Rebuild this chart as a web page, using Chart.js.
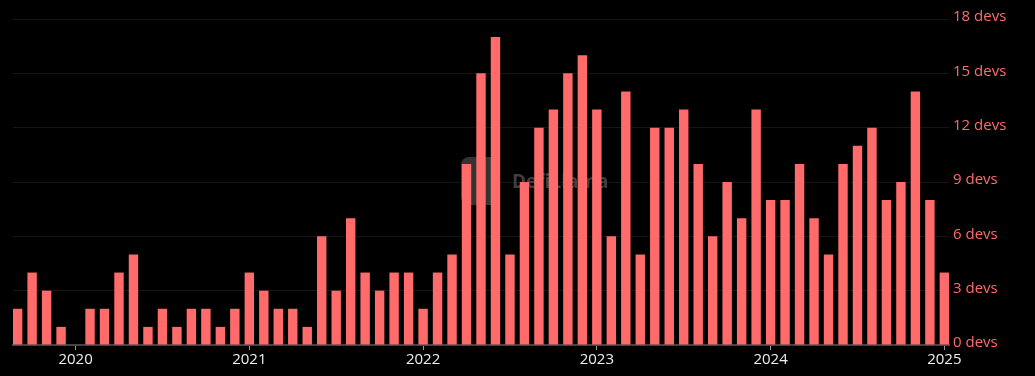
<!DOCTYPE html>
<html>
<head>
<meta charset="utf-8">
<style>
    html, body { margin: 0; padding: 0; background: #000; }
    #wrap { width: 1035px; height: 376px; }
</style>
<script src="https://cdn.jsdelivr.net/npm/chart.js@4"></script>
</head>
<body>
<div id="wrap"><canvas id="chart"></canvas></div>
<script>
// Monthly buckets, Sep 2019 to Jan 2025
const months = [
    '2019-09', '2019-10', '2019-11', '2019-12',
    '2020-01', '2020-02', '2020-03', '2020-04', '2020-05', '2020-06', '2020-07', '2020-08', '2020-09', '2020-10', '2020-11', '2020-12',
    '2021-01', '2021-02', '2021-03', '2021-04', '2021-05', '2021-06', '2021-07', '2021-08', '2021-09', '2021-10', '2021-11', '2021-12',
    '2022-01', '2022-02', '2022-03', '2022-04', '2022-05', '2022-06', '2022-07', '2022-08', '2022-09', '2022-10', '2022-11', '2022-12',
    '2023-01', '2023-02', '2023-03', '2023-04', '2023-05', '2023-06', '2023-07', '2023-08', '2023-09', '2023-10', '2023-11', '2023-12',
    '2024-01', '2024-02', '2024-03', '2024-04', '2024-05', '2024-06', '2024-07', '2024-08', '2024-09', '2024-10', '2024-11', '2024-12',
    '2025-01'
];
const devs = [
    2, 4, 3, 1,
    0, 2, 2, 4, 5, 1, 2, 1, 2, 2, 1, 2,
    4, 3, 2, 2, 1, 6, 3, 7, 4, 3, 4, 4,
    2, 4, 5, 10, 15, 17, 5, 9, 12, 13, 15, 16,
    13, 6, 14, 5, 12, 12, 13, 10, 6, 9, 7, 13,
    8, 8, 10, 7, 5, 10, 11, 12, 8, 9, 14, 8,
    4
];
const yearTicks = ['2020', '2021', '2022', '2023', '2024', '2025'];
const devTicks = [0, 3, 6, 9, 12, 15, 18];

const RED = '#ff6b6b';
const FONT = '"Open Sans"';

// Faint watermark sits behind the bars
const watermark = {
    id: 'watermark',
    beforeDatasetsDraw(chart) {
        const ctx = chart.ctx;
        ctx.save();
        ctx.fillStyle = '#333';
        ctx.beginPath();
        ctx.roundRect(461, 157, 38, 48, 8);
        ctx.fill();
        ctx.fillStyle = '#3f3f3f';
        ctx.font = 'bold 19px ' + FONT;
        ctx.textBaseline = 'middle';
        ctx.fillText('DefiLlama', 512, 183);
        ctx.restore();
    }
};

new Chart(document.getElementById('chart'), {
    type: 'bar',
    data: {
        datasets: [{
            label: 'Devs',
            data: months.map((m, i) => ({ x: i, y: devs[i] })),
            backgroundColor: RED,
            borderWidth: 0,
            categoryPercentage: 1,
            barPercentage: 0.65
        }]
    },
    options: {
        responsive: true,
        maintainAspectRatio: false,
        animation: false,
        layout: { padding: { left: 13, top: 19, right: 0, bottom: 0 } },
        plugins: { legend: { display: false }, tooltip: { enabled: false } },
        scales: {
            x: {
                type: 'linear',
                offset: false,
                min: -0.32,
                max: months.length - 1 + 0.32,
                // ticks only on the January buckets
                afterBuildTicks(scale) {
                    scale.ticks = yearTicks.map(y => ({ value: months.indexOf(y + '-01') }));
                },
                afterFit(scale) { scale.height = 31; },
                grid: { offset: false, drawOnChartArea: false, tickLength: 5, tickColor: '#999' },
                border: { color: '#444', width: 2 },
                ticks: {
                    color: '#eee',
                    autoSkip: false,
                    maxRotation: 0,
                    padding: 1,
                    font: { family: FONT, size: 15 },
                    callback: (v) => months[v].slice(0, 4)
                }
            },
            y: {
                position: 'right',
                min: 0,
                max: 18,
                afterBuildTicks(scale) {
                    scale.ticks = devTicks.map(v => ({ value: v }));
                },
                afterFit(scale) { scale.width = 86; },
                grid: { color: '#161616', drawTicks: false },
                border: { display: false },
                ticks: {
                    color: RED,
                    padding: 4,
                    labelOffset: -2,
                    font: { family: FONT, size: 15 },
                    callback: (v) => v + ' devs'
                }
            }
        }
    },
    plugins: [watermark]
});
</script>
</body>
</html>
